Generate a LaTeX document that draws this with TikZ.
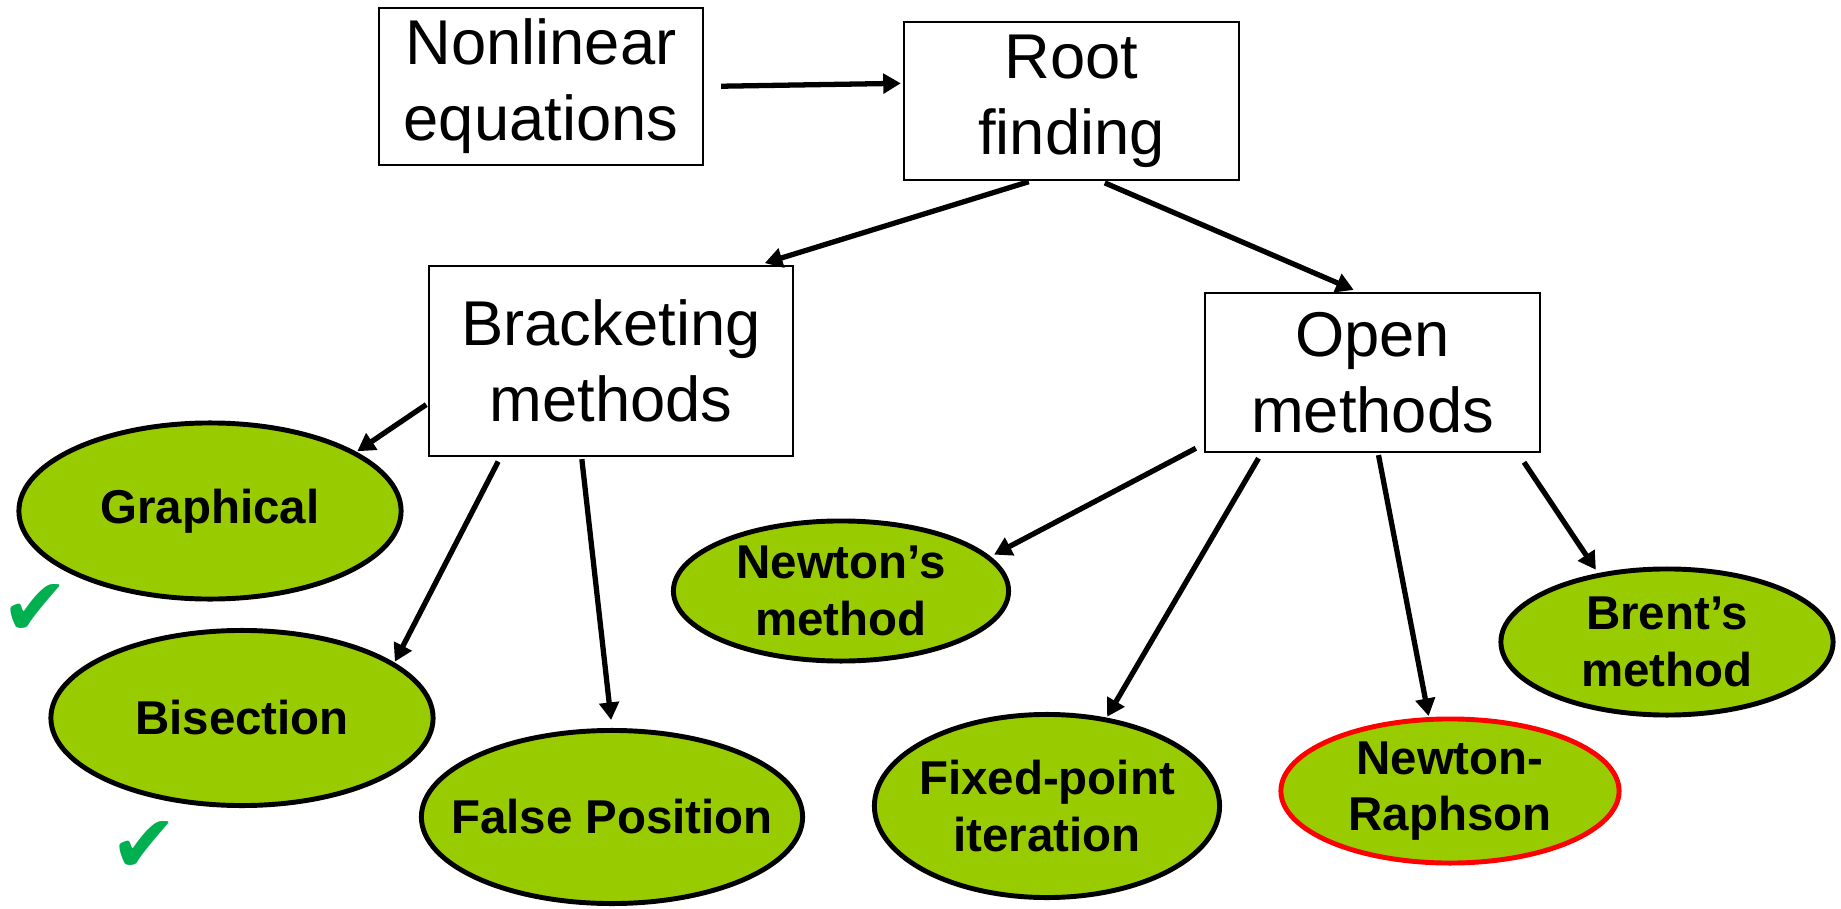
\documentclass[tikz,border=0pt]{standalone}
\usepackage{fontspec}
\setmainfont{Liberation Sans}
\newfontfamily\symfont{DejaVu Sans}
\usetikzlibrary{shapes.geometric,arrows.meta}
\definecolor{leafgreen}{RGB}{153,204,0}
\definecolor{tickgreen}{RGB}{0,176,80}

\begin{document}
\begin{tikzpicture}[x=0.01cm, y=-0.01cm,
    box/.style={rectangle, draw, black, line width=0.6pt, align=center, inner sep=0pt,
      font=\fontsize{18}{21.6}\selectfont},
    oval/.style={ellipse, draw, black, fill=leafgreen, line width=1.4pt, align=center,
      inner sep=-0.5cm, font=\fontsize{13.5}{16}\selectfont\bfseries},
    tick/.style={text=tickgreen, inner sep=0pt, font=\symfont\fontsize{23}{23}\selectfont},
    arr/.style={-{Triangle[length=5pt,width=5.5pt]}, line width=1.5pt}]
    \useasboundingbox (0,0) rectangle (1841,909);

    \draw
    (541,86.5) node[box, minimum width=3.24cm, minimum height=1.57cm](NL){Nonlinear\\equations}
    (1071.5,101) node[box, minimum width=3.35cm, minimum height=1.58cm](RF){Root\\finding}
    (611,361) node[box, minimum width=3.63cm, minimum height=1.90cm](BM){Bracketing\\methods}
    (1372.5,372.5) node[box, minimum width=3.35cm, minimum height=1.59cm](OM){Open\\methods};

    \draw
    (210,511) node[oval, minimum width=3.82cm, minimum height=1.76cm](GR){Graphical}
    (242,718) node[oval, minimum width=3.82cm, minimum height=1.75cm](BI){Bisection}
    (612,817) node[oval, minimum width=3.81cm, minimum height=1.73cm](FP){False Position}
    (841,591) node[oval, minimum width=3.35cm, minimum height=1.40cm](NM){Newton’s\\method}
    (1047,806) node[oval, minimum width=3.45cm, minimum height=1.83cm](FI){Fixed-point\\iteration}
    (1450,791) node[oval, draw=red, minimum width=3.38cm, minimum height=1.44cm](NR){Newton-\\Raphson}
    (1667,642) node[oval, minimum width=3.32cm, minimum height=1.46cm](BR){Brent’s\\method};

    \draw
    (35,610) node[tick](C1){✔}
    (144,847) node[tick](C2){✔};

    \draw[arr, shorten <=0.17cm, shorten >=0.02cm] (NL.east) -- (RF.174);
    \draw[arr, shorten <=0.02cm, shorten >=0.06cm] (RF.243) -- (BM.33);
    \draw[arr, shorten <=0.045cm, shorten >=0.05cm] (RF.290) -- (OM.100);

    \draw[arr, shorten <=0.025cm, shorten >=0.01cm] (BM.193) -- (GR.22);
    \draw[arr, shorten <=0.05cm, shorten >=0.01cm] (BM.221) -- (BI.20);
    \draw[arr, shorten <=0.02cm, shorten >=0.08cm] (BM.253) -- (FP.north);

    \draw[arr, shorten <=0.09cm, shorten >=0.04cm] (OM.203) -- (NM.13);
    \draw[arr, shorten <=0.06cm, shorten >=0.01cm] (OM.216) -- (FI.56);
    \draw[arr, shorten <=0.02cm, shorten >=0.01cm] (OM.274) -- (NR.106);
    \draw[arr, shorten <=0.11cm, shorten >=0.04cm] (OM.331) -- (BR.135);

  \end{tikzpicture}
\end{document}
